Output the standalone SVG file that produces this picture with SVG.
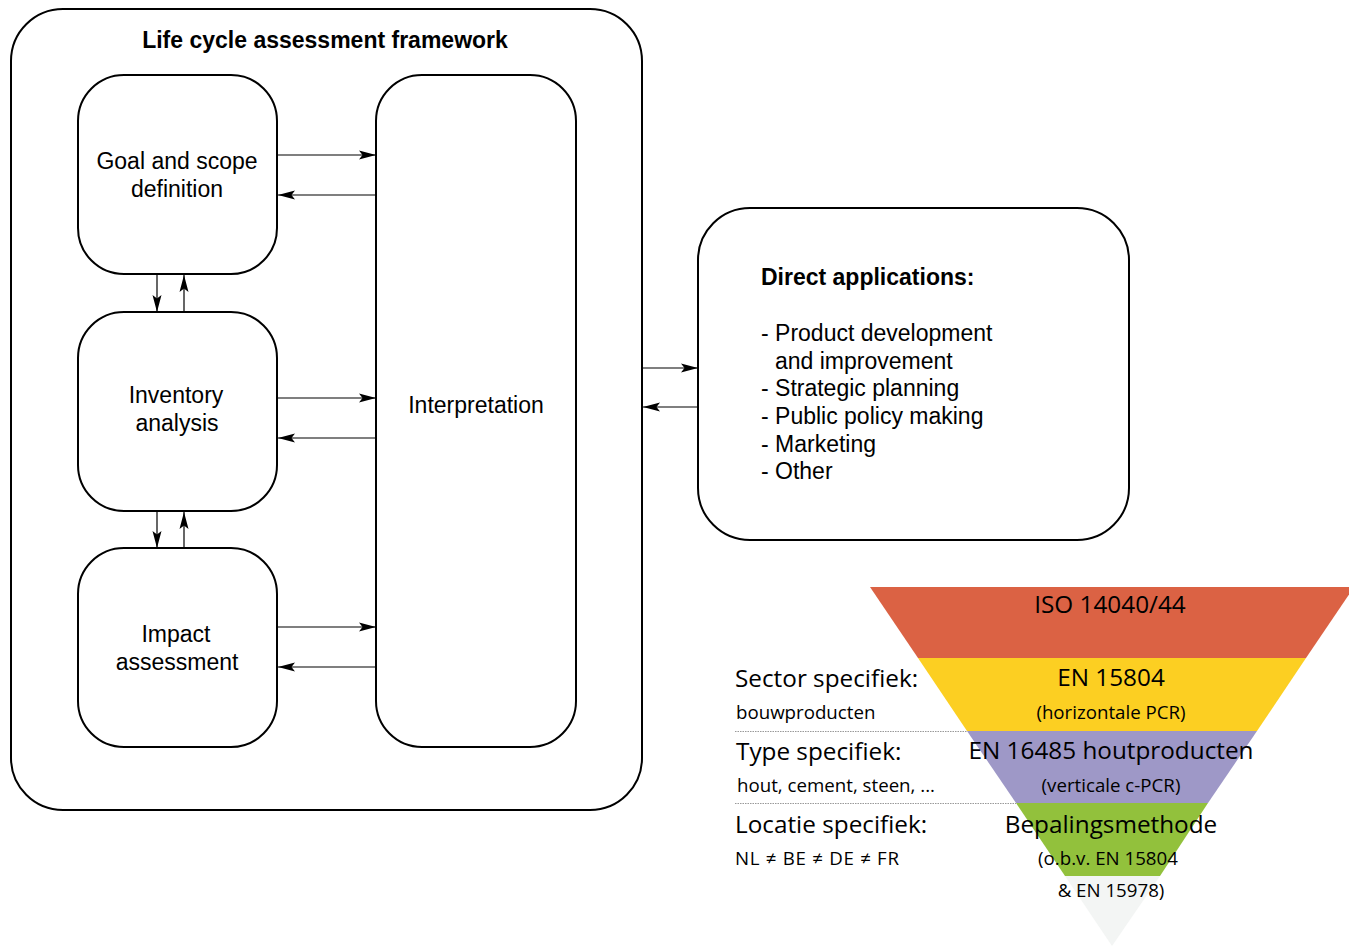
<svg xmlns="http://www.w3.org/2000/svg" width="1349" height="949" viewBox="0 0 1349 949">
<style>
.box{fill:#fff;stroke:#000;stroke-width:2}
.ln{stroke:#000;stroke-width:1.2;fill:none}
.t{font-family:"Liberation Sans",Arial,sans-serif;font-size:23px;fill:#000}
.b{font-weight:bold}
.s{font-family:"Open Sans","Noto Sans",sans-serif;fill:#000}
.L{font-size:24.3px}
.m{font-size:18.7px}
.dot{stroke:#999;stroke-width:1;stroke-dasharray:1.5 1}
</style>
<defs>
<marker id="ah" markerWidth="18" markerHeight="12" refX="17" refY="5.5" orient="auto" markerUnits="userSpaceOnUse">
<path d="M0,1 L17,5.5 L0,10 L3.5,5.5 Z" fill="#000"/>
</marker>
</defs>
<g id="framework">
<rect class="box" x="11" y="9" width="631" height="801" rx="52"/>
<text class="t b" x="325" y="48" text-anchor="middle">Life cycle assessment framework</text>
</g>
<g id="goal">
<rect class="box" x="78" y="75" width="199" height="199" rx="46"/>
<text class="t" x="177" y="169" text-anchor="middle">Goal and scope</text>
<text class="t" x="177" y="197" text-anchor="middle">definition</text>
</g>
<g id="inventory">
<rect class="box" x="78" y="312" width="199" height="199" rx="46"/>
<text class="t" x="176" y="403" text-anchor="middle">Inventory</text>
<text class="t" x="177" y="431" text-anchor="middle">analysis</text>
</g>
<g id="impact">
<rect class="box" x="78" y="548" width="199" height="199" rx="46"/>
<text class="t" x="176" y="642" text-anchor="middle">Impact</text>
<text class="t" x="177" y="670" text-anchor="middle">assessment</text>
</g>
<g id="interpretation">
<rect class="box" x="376" y="75" width="200" height="672" rx="46"/>
<text class="t" x="476" y="413" text-anchor="middle">Interpretation</text>
</g>
<g id="applications">
<rect class="box" x="698" y="208" width="431" height="332" rx="52"/>
<text class="t b" x="761" y="285">Direct applications:</text>
<text class="t" x="761" y="341">- Product development</text>
<text class="t" x="775" y="369">and improvement</text>
<text class="t" x="761" y="396">- Strategic planning</text>
<text class="t" x="761" y="424">- Public policy making</text>
<text class="t" x="761" y="452">- Marketing</text>
<text class="t" x="761" y="479">- Other</text>
</g>
<g id="connectors">
<line class="ln" x1="278" y1="155" x2="376" y2="155" marker-end="url(#ah)"/>
<line class="ln" x1="376" y1="195" x2="278" y2="195" marker-end="url(#ah)"/>
<line class="ln" x1="278" y1="398" x2="376" y2="398" marker-end="url(#ah)"/>
<line class="ln" x1="376" y1="438" x2="278" y2="438" marker-end="url(#ah)"/>
<line class="ln" x1="278" y1="627" x2="376" y2="627" marker-end="url(#ah)"/>
<line class="ln" x1="376" y1="667" x2="278" y2="667" marker-end="url(#ah)"/>
<line class="ln" x1="157" y1="275" x2="157" y2="312" marker-end="url(#ah)"/>
<line class="ln" x1="184" y1="312" x2="184" y2="275" marker-end="url(#ah)"/>
<line class="ln" x1="157" y1="512" x2="157" y2="548" marker-end="url(#ah)"/>
<line class="ln" x1="184" y1="548" x2="184" y2="512" marker-end="url(#ah)"/>
<line class="ln" x1="643" y1="368" x2="698" y2="368" marker-end="url(#ah)"/>
<line class="ln" x1="698" y1="407" x2="643" y2="407" marker-end="url(#ah)"/>
</g>
<g id="pyramid">
<polygon points="870,587 1354,587 1306,658 918,658" fill="#DB6244"/>
<polygon points="918,658 1306,658 1257,731 967,731" fill="#FCCF22"/>
<polygon points="967,731 1257,731 1208,803 1016,803" fill="#9E98C7"/>
<polygon points="1016,803 1208,803 1160,876 1065,876" fill="#92C13C"/>
<polygon points="1065,876 1160,876 1112,946" fill="#F3F5F4"/>
<line class="dot" x1="735" y1="731.5" x2="967" y2="731.5"/>
<line class="dot" x1="735" y1="803.5" x2="1016" y2="803.5"/>
<text class="s L" x="1110" y="613" text-anchor="middle">ISO 14040/44</text>
<text class="s L" x="1111" y="686" text-anchor="middle">EN 15804</text>
<text class="s m" x="1111" y="719" text-anchor="middle">(horizontale PCR)</text>
<text class="s L" x="1111" y="759" text-anchor="middle">EN 16485 houtproducten</text>
<text class="s m" x="1111" y="792" text-anchor="middle">(verticale c-PCR)</text>
<text class="s L" x="1111" y="833" text-anchor="middle">Bepalingsmethode</text>
<text class="s m" x="1108" y="865" text-anchor="middle">(o.b.v. EN 15804</text>
<text class="s m" x="1111" y="897" text-anchor="middle">&amp; EN 15978)</text>
<text class="s L" x="735" y="687">Sector specifiek:</text>
<text class="s m" x="736" y="719">bouwproducten</text>
<text class="s L" x="736" y="760">Type specifiek:</text>
<text class="s m" x="737" y="792">hout, cement, steen, ...</text>
<text class="s L" x="735" y="833">Locatie specifiek:</text>
<text class="s m" x="735" y="865" textLength="164">NL ≠ BE ≠ DE ≠ FR</text>
</g>
</svg>
